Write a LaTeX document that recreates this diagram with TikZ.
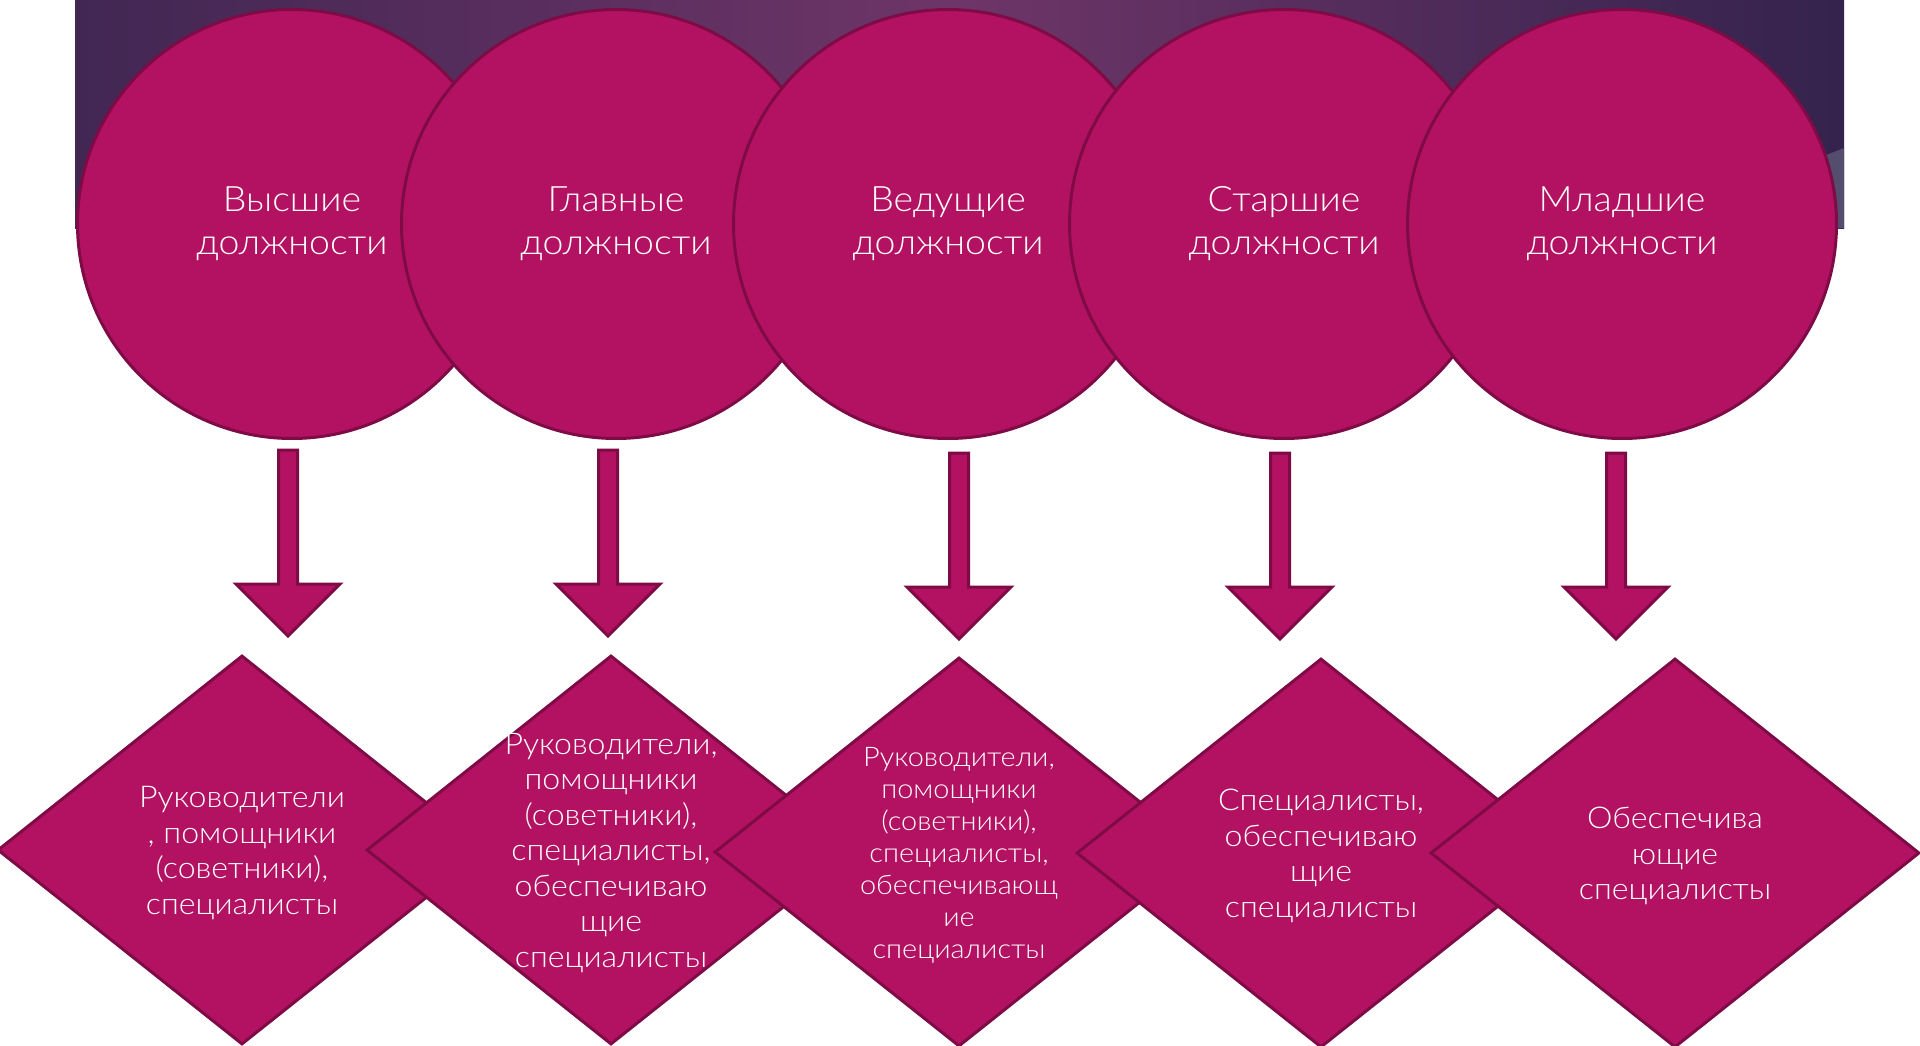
\documentclass[tikz,border=0pt]{standalone}
\usepackage{fontspec}
\setmainfont{Lato}[UprightFont={* Light},FakeStretch=1.07]
\usetikzlibrary{shapes.geometric}
\definecolor{plum}{HTML}{B31262}
\definecolor{plumdark}{HTML}{7E0B45}
\definecolor{bgleft}{HTML}{2C2049}
\definecolor{bgmid}{HTML}{6E3568}
\definecolor{bgright}{HTML}{221D45}
\definecolor{bggrey}{HTML}{544D6E}
\pgfdeclarehorizontalshading{backdrop}{100bp}{color(0bp)=(bgleft); color(22bp)=(bgleft!75!bgmid);
 color(50bp)=(bgmid); color(78bp)=(bgright!85!bgmid); color(100bp)=(bgright)}
\tikzset{
 rank/.style={circle,fill=plum,draw=plumdark,line width=3pt,minimum size=429pt,inner sep=0pt,
  text=white,align=center,font=\fontsize{35}{43}\selectfont},
 group/.style={diamond,fill=plum,draw=plumdark,line width=3pt,minimum width=489pt,minimum height=389pt,inner sep=0pt},
 grouptext/.style={text=white,align=center,yshift=-3pt,font=\fontsize{30}{35.5}\selectfont},
 blockarrow/.style={fill=plum,draw=plumdark,line width=3pt,line join=miter}
}
\begin{document}
\begin{tikzpicture}[x=1pt,y=-1pt]
 \useasboundingbox (0,0) rectangle (1920,1046);
 % backdrop
 \shade[shading=backdrop] (75,0) rectangle (1844,228);
 \fill[bggrey] (1700,205) -- (1844,148) -- (1844,228) -- (1700,228) -- cycle;
 % ranks
 \node[rank] (c1) at (292,224) {Высшие\\должности};
 \node[rank] (c2) at (616,224) {Главные\\должности};
 \node[rank] (c3) at (948,224) {Ведущие\\должности};
 \node[rank] (c4) at (1284,224) {Старшие\\должности};
 \node[rank] (c5) at (1622,224) {Младшие\\должности};
 % arrows
 \coordinate (s1) at (288,450); \coordinate (s2) at (608,450);
 \coordinate (s3) at (959,453); \coordinate (s4) at (1280,453); \coordinate (s5) at (1616,453);
 \foreach \i in {1,...,5}
  \draw[blockarrow] (s\i) ++(-9.5,0) -- ++(19,0) -- ++(0,134) -- ++(42.5,0) -- ++(-52,52)
   -- ++(-52,-52) -- ++(42.5,0) -- cycle;
 % groups
 \node[group] (d1) at (242,850) {};
 \node[grouptext] (t1) at (d1) {Руководители\\, помощники\\(советники),\\специалисты};
 \node[group] (d2) at (611,850) {};
 \node[grouptext] (t2) at (d2) {Руководители,\\помощники\\(советники),\\специалисты,\\обеспечиваю\\щие\\специалисты};
 \node[group] (d3) at (959,852) {};
 \node[grouptext,font=\fontsize{27}{32}\selectfont] (t3) at (d3) {Руководители,\\помощники\\(советники),\\специалисты,\\обеспечивающ\\ие\\специалисты};
 \node[group] (d4) at (1321,853) {};
 \node[grouptext] (t4) at (d4) {Специалисты,\\обеспечиваю\\щие\\специалисты};
 \node[group] (d5) at (1675,853) {};
 \node[grouptext] (t5) at (d5) {Обеспечива\\ющие\\специалисты};
\end{tikzpicture}
\end{document}
